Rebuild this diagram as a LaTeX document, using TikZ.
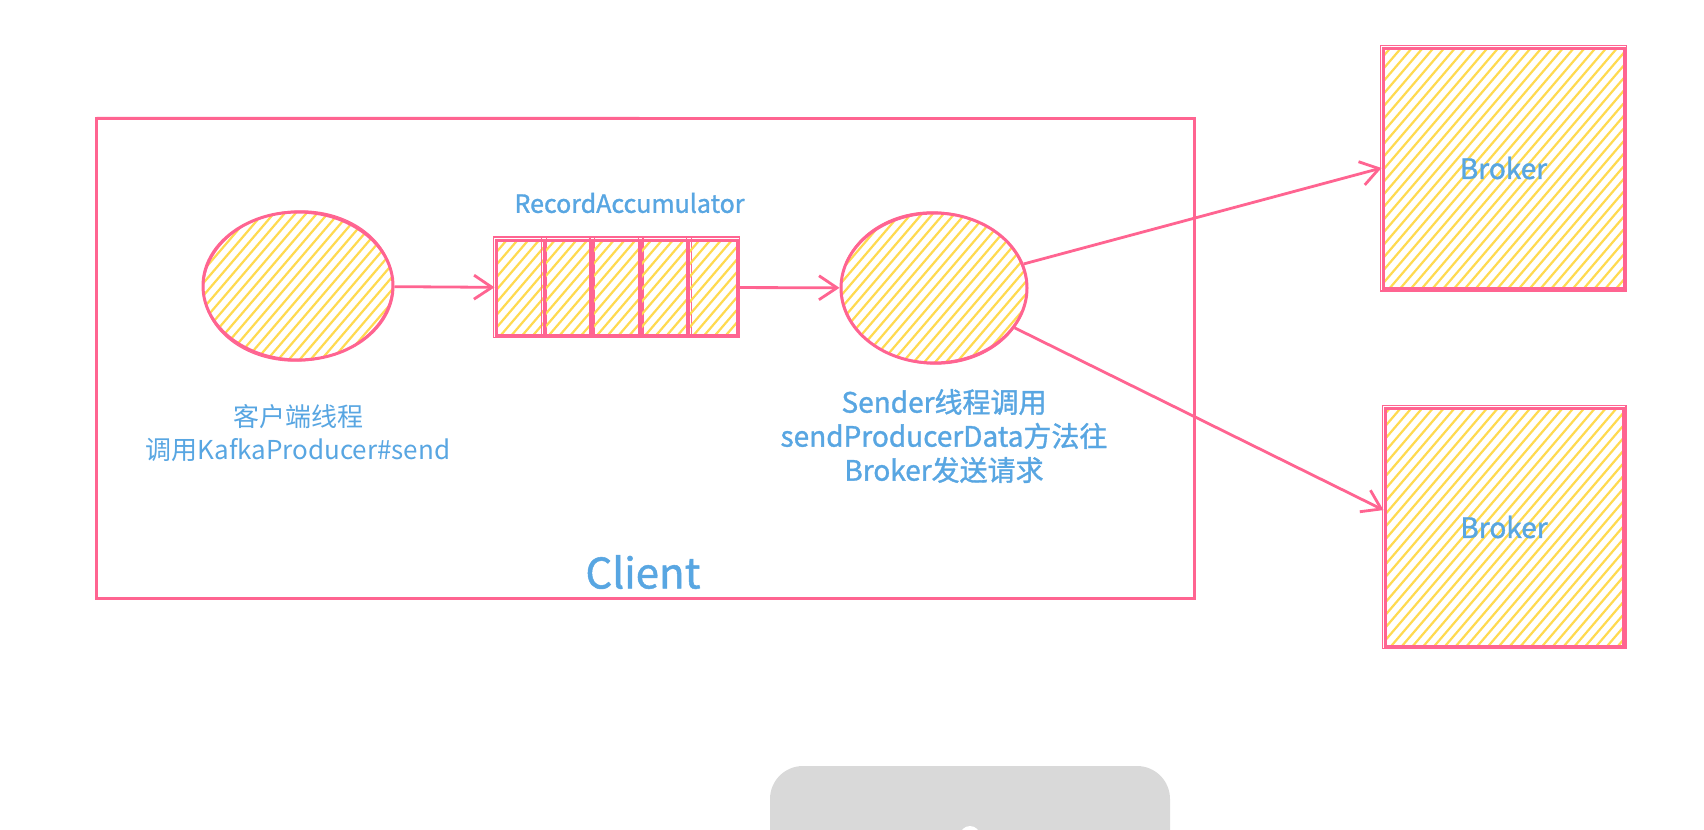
\documentclass[tikz,border=0pt]{standalone}
\usepackage{fontspec}
\setmainfont{Noto Sans CJK SC}
\newfontfamily\medfont[FakeBold=1.2]{Noto Sans CJK SC}
\usetikzlibrary{arrows.meta,shapes.geometric}
\definecolor{pinkc}{RGB}{255,100,145}
\definecolor{yel}{RGB}{255,218,80}
\definecolor{bluet}{RGB}{88,166,226}
\definecolor{grayb}{RGB}{217,217,217}
\begin{document}
\begin{tikzpicture}[x=0.5pt,y=-0.5pt,
  outl/.style={draw=pinkc, line width=1.5pt, inner sep=0pt},
  sk/.style={draw=pinkc, line width=0.6pt},
  hatch/.style={path picture={
    \foreach \k in {-24,...,24}{
      \draw[yel, line width=1.1pt, line cap=round] ([shift={(\k*5.4pt-60pt,-70pt)}]path picture bounding box.center) -- ++(120pt,140pt);
    }}},
  conn/.style={draw=pinkc, line width=1.4pt, -{Straight Barb[length=9pt,width=12pt]}},
  lbl/.style={text=bluet, inner sep=0pt}
]
\fill[white] (0,0) rectangle (1704,830);
\useasboundingbox (0,0) rectangle (1704,830);

% client frame
\node[outl, minimum width=549pt, minimum height=240pt] (cl) at (645,358) {};
\draw[sk] ([shift={(1pt,-0.5pt)}]cl.north west) -- ([shift={(-0.5pt,-0.6pt)}]cl.north east);

% ellipses
\node[ellipse, outl, hatch, minimum width=95pt, minimum height=74pt] (c1) at (298,286) {};
\node[ellipse, outl, hatch, minimum width=93pt, minimum height=75pt] (c2) at (934,288) {};
\draw[sk, rotate around={4:(c1.center)}] (c1.center) ellipse [x radius=47.3pt, y radius=37.5pt];
\draw[sk, rotate around={-3:(c2.center)}] (c2.center) ellipse [x radius=46.3pt, y radius=38pt];

% accumulator
\foreach \i in {1,...,5}{
  \node[outl, hatch, minimum width=24.1pt, minimum height=47.5pt] (q\i) at ({496+48.2*(\i-0.5)},287.5) {};
  \draw[sk] ([shift={(-0.5pt,0.8pt)}]q\i.north west) rectangle ([shift={(0.4pt,-0.5pt)}]q\i.south east);
}

% brokers
\node[outl, hatch, minimum width=120.5pt, minimum height=120pt, text=bluet, font=\medfont\fontsize{14}{17}\selectfont] (b1) at (1503.5,168) {Broker};
\node[outl, hatch, minimum width=119pt, minimum height=119pt, text=bluet, font=\medfont\fontsize{14}{17}\selectfont] (b2) at (1504,527) {Broker};
\draw[sk] ([shift={(-0.7pt,0.6pt)}]b1.north west) rectangle ([shift={(0.5pt,-0.7pt)}]b1.south east);
\draw[sk] ([shift={(-0.6pt,0.7pt)}]b2.north west) rectangle ([shift={(0.7pt,-0.5pt)}]b2.south east);

% connectors
\draw[conn] (c1) -- (q1);
\draw[conn] (q5) -- (c2);
\draw[conn] (c2) -- (b1.west);
\draw[conn] (c2) -- (b2.172);

% labels
\node[lbl, font=\medfont\fontsize{12.5}{15}\selectfont] (t2) at (629.5,203) {RecordAccumulator};
\node[lbl, font=\fontsize{13}{16.5}\selectfont, align=center] (t1) at (298,433.5) {客户端线程\\调用KafkaProducer\#send};
\node[lbl, font=\medfont\fontsize{14}{17}\selectfont, align=center] (t3) at (944,436) {Sender线程调用\\sendProducerData方法往\\Broker发送请求};
\node[lbl, font=\medfont\fontsize{21}{25}\selectfont] (t4) at (643,572) {Client};

% grey panel at bottom
\begin{scope}
\clip (0,0) rectangle (1704,830);
\fill[grayb, rounded corners=16.5pt] (770,900) -- (770,766) -- (1170,766) -- (1170,900) -- cycle;
\fill[white] (970,836) circle (5pt);
\end{scope}
\end{tikzpicture}
\end{document}
